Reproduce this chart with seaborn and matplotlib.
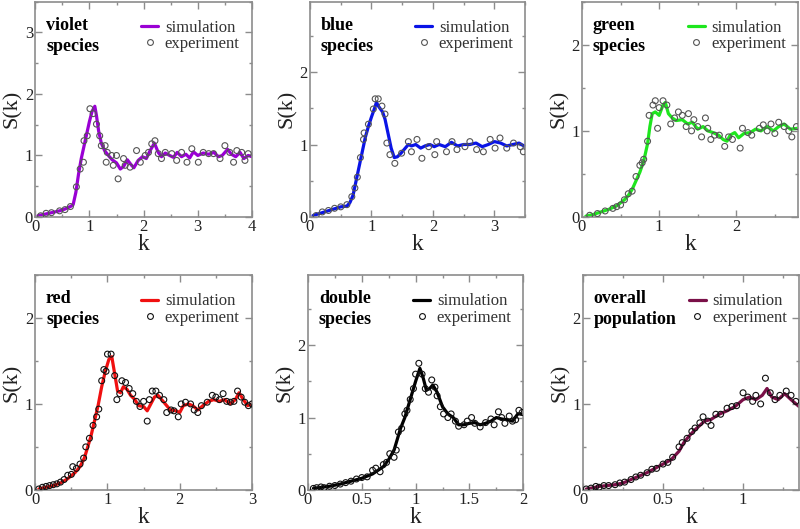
import numpy as np
import pandas as pd
import matplotlib
matplotlib.use("Agg")
import matplotlib.pyplot as plt
from matplotlib.lines import Line2D
from matplotlib.ticker import MultipleLocator, AutoMinorLocator
import seaborn as sns

# --- DANE --------------------------------------------------------------------

# violet species
violet_sim_k = [0.05, 0.15, 0.25, 0.35, 0.45, 0.55, 0.65, 0.70, 0.75, 0.80, 0.85, 0.90,
                0.95, 1.00, 1.05, 1.10, 1.13, 1.17, 1.22, 1.28, 1.35, 1.42, 1.50, 1.57,
                1.63, 1.70, 1.76, 1.82, 1.90, 1.98, 2.05, 2.12, 2.20, 2.27, 2.33, 2.40,
                2.48, 2.55, 2.62, 2.70, 2.78, 2.85, 2.92, 3.00, 3.10, 3.20, 3.30, 3.38,
                3.45, 3.55, 3.62, 3.70, 3.78, 3.85, 3.93, 4.00]
violet_sim_s = [0.02, 0.04, 0.06, 0.08, 0.10, 0.13, 0.17, 0.20, 0.40, 0.70, 0.95, 1.15,
                1.35, 1.55, 1.72, 1.80, 1.65, 1.40, 1.20, 1.08, 1.00, 0.93, 0.88, 0.78,
                0.82, 0.93, 0.86, 0.80, 0.92, 0.98, 0.95, 1.08, 1.20, 1.05, 0.98, 1.04,
                1.00, 0.97, 1.05, 0.98, 1.02, 0.96, 1.06, 1.00, 1.04, 1.02, 1.05, 0.98,
                1.00, 1.10, 1.02, 0.98, 1.05, 0.95, 1.00, 0.98]
violet_exp_k = [0.10, 0.20, 0.30, 0.45, 0.55, 0.65, 0.76, 0.83, 0.89, 0.90, 0.96, 1.01,
                1.07, 1.13, 1.19, 1.22, 1.29, 1.31, 1.33, 1.41, 1.44, 1.50, 1.53, 1.63,
                1.66, 1.75, 1.87, 1.94, 2.03, 2.09, 2.15, 2.21, 2.27, 2.33, 2.40, 2.52,
                2.61, 2.70, 2.80, 2.89, 3.01, 3.10, 3.20, 3.29, 3.41, 3.50, 3.59, 3.66,
                3.72, 3.81, 3.87, 3.93]
violet_exp_s = [0.02, 0.06, 0.07, 0.10, 0.12, 0.17, 0.49, 0.78, 0.89, 1.24, 1.32, 1.76,
                1.68, 1.51, 1.32, 1.16, 1.16, 0.89, 1.05, 1.00, 0.84, 1.00, 0.62, 0.95,
                0.84, 0.81, 1.08, 0.89, 1.00, 1.05, 1.19, 1.24, 1.03, 0.95, 1.05, 1.03,
                0.92, 1.05, 0.89, 1.11, 0.89, 1.05, 1.03, 1.03, 0.95, 1.16, 1.05, 0.89,
                1.08, 1.05, 0.92, 1.03]

# blue species
blue_sim_k = [0.05, 0.20, 0.35, 0.50, 0.60, 0.65, 0.70, 0.75, 0.80, 0.85, 0.90, 0.95,
              1.00, 1.05, 1.08, 1.12, 1.18, 1.22, 1.27, 1.32, 1.37, 1.42, 1.48, 1.55,
              1.60, 1.65, 1.72, 1.80, 1.87, 1.95, 2.02, 2.10, 2.20, 2.30, 2.40, 2.50,
              2.60, 2.70, 2.80, 2.90, 3.00, 3.10, 3.20, 3.30, 3.40, 3.50]
blue_sim_s = [0.02, 0.06, 0.10, 0.14, 0.15, 0.20, 0.30, 0.50, 0.70, 0.90, 1.10, 1.25,
              1.38, 1.50, 1.58, 1.52, 1.45, 1.35, 1.15, 0.95, 0.82, 0.83, 0.88, 0.95,
              1.00, 0.98, 1.00, 0.95, 0.98, 1.00, 0.97, 1.00, 0.97, 1.03, 0.98, 1.00,
              1.00, 1.02, 0.97, 1.00, 1.04, 1.02, 0.98, 1.00, 1.02, 0.97]
blue_exp_k = [0.10, 0.20, 0.30, 0.40, 0.50, 0.60, 0.68, 0.73, 0.77, 0.82, 0.87, 0.88,
              0.95, 1.03, 1.06, 1.11, 1.17, 1.22, 1.25, 1.30, 1.38, 1.49, 1.60, 1.65,
              1.74, 1.82, 1.93, 2.03, 2.06, 2.22, 2.31, 2.39, 2.52, 2.60, 2.71, 2.82,
              2.93, 3.01, 3.09, 3.20, 3.31, 3.42, 3.47]
blue_exp_s = [0.02, 0.07, 0.09, 0.12, 0.14, 0.17, 0.28, 0.40, 0.55, 0.82, 1.07, 1.16,
              1.28, 1.49, 1.63, 1.63, 1.53, 1.42, 1.02, 0.86, 0.74, 0.88, 1.04, 0.90,
              1.07, 0.81, 0.97, 0.86, 1.04, 0.90, 1.04, 0.93, 0.97, 1.04, 0.93, 0.90,
              1.07, 0.95, 1.09, 0.95, 1.02, 0.97, 0.90]

# green species
green_sim_k = [0.05, 0.15, 0.25, 0.35, 0.45, 0.55, 0.60, 0.65, 0.70, 0.75, 0.80, 0.85,
               0.88, 0.91, 0.95, 1.00, 1.05, 1.08, 1.12, 1.17, 1.22, 1.30, 1.37, 1.43,
               1.50, 1.57, 1.63, 1.70, 1.77, 1.83, 1.88, 1.92, 1.98, 2.03, 2.10, 2.18,
               2.25, 2.32, 2.40, 2.48, 2.55, 2.62, 2.70, 2.80]
green_sim_s = [0.01, 0.03, 0.06, 0.09, 0.13, 0.20, 0.25, 0.32, 0.42, 0.52, 0.65, 0.85,
               1.05, 1.20, 1.22, 1.18, 1.30, 1.33, 1.20, 1.15, 1.12, 1.13, 1.08, 1.10,
               1.02, 1.05, 1.00, 0.98, 0.95, 0.90, 0.88, 0.95, 0.98, 0.92, 0.97, 0.98,
               1.02, 1.00, 1.05, 1.00, 1.05, 1.08, 1.02, 1.03]
green_exp_k = [0.10, 0.20, 0.30, 0.40, 0.45, 0.50, 0.55, 0.60, 0.65, 0.70, 0.75, 0.78,
               0.80, 0.85, 0.87, 0.92, 0.95, 0.98, 1.00, 1.05, 1.10, 1.15, 1.20, 1.25,
               1.30, 1.35, 1.38, 1.42, 1.45, 1.50, 1.55, 1.60, 1.63, 1.67, 1.72, 1.78,
               1.85, 1.90, 1.95, 2.05, 2.08, 2.15, 2.20, 2.30, 2.35, 2.40, 2.45, 2.50,
               2.55, 2.62, 2.68, 2.72, 2.78]
green_exp_s = [0.02, 0.04, 0.07, 0.10, 0.12, 0.14, 0.20, 0.27, 0.30, 0.47, 0.60, 0.63,
               0.67, 0.88, 1.18, 1.30, 1.35, 1.03, 1.27, 1.35, 1.30, 1.08, 1.15, 1.22,
               1.18, 1.05, 1.20, 1.00, 1.13, 1.05, 0.93, 1.15, 1.03, 0.90, 0.95, 0.95,
               0.82, 0.93, 0.90, 0.80, 1.03, 0.98, 0.95, 1.03, 1.07, 1.00, 1.08, 0.97,
               1.10, 1.05, 1.00, 0.93, 1.05]

# red species
red_sim_k = [0.05, 0.15, 0.25, 0.35, 0.45, 0.55, 0.62, 0.68, 0.72, 0.77, 0.82, 0.87,
             0.92, 0.97, 1.02, 1.06, 1.10, 1.14, 1.18, 1.22, 1.27, 1.32, 1.38, 1.43,
             1.50, 1.55, 1.60, 1.65, 1.70, 1.75, 1.80, 1.87, 1.95, 2.00, 2.05, 2.12,
             2.18, 2.25, 2.32, 2.40, 2.47, 2.55, 2.62, 2.70, 2.77, 2.82, 2.88, 2.94,
             3.00]
red_sim_s = [0.01, 0.03, 0.05, 0.08, 0.13, 0.20, 0.27, 0.37, 0.48, 0.62, 0.80, 0.98,
             1.20, 1.38, 1.52, 1.55, 1.35, 1.15, 1.13, 1.20, 1.17, 1.10, 1.05, 0.98,
             0.97, 0.92, 1.00, 1.08, 1.10, 1.05, 1.00, 0.93, 0.92, 0.90, 0.98, 1.00,
             0.98, 0.93, 0.98, 1.03, 1.05, 1.03, 1.05, 1.00, 1.05, 1.13, 1.05, 0.98,
             1.00]
red_exp_k = [0.05, 0.10, 0.15, 0.20, 0.25, 0.30, 0.35, 0.40, 0.45, 0.50, 0.52, 0.57,
             0.62, 0.67, 0.70, 0.75, 0.80, 0.85, 0.88, 0.92, 0.95, 0.98, 1.00, 1.05,
             1.10, 1.13, 1.17, 1.20, 1.25, 1.30, 1.35, 1.40, 1.45, 1.50, 1.55, 1.58,
             1.62, 1.67, 1.72, 1.78, 1.82, 1.88, 1.92, 1.98, 2.02, 2.08, 2.15, 2.20,
             2.25, 2.30, 2.38, 2.45, 2.50, 2.55, 2.60, 2.65, 2.70, 2.75, 2.80, 2.85,
             2.90, 2.95, 3.00]
red_exp_s = [0.01, 0.03, 0.04, 0.05, 0.06, 0.07, 0.09, 0.12, 0.17, 0.18, 0.27, 0.25,
             0.30, 0.37, 0.50, 0.60, 0.75, 0.85, 0.94, 1.27, 1.40, 1.38, 1.58, 1.58,
             1.33, 1.05, 1.12, 1.27, 1.25, 1.18, 1.12, 1.03, 0.97, 1.03, 0.80, 1.05,
             1.15, 1.15, 1.10, 1.05, 0.90, 0.93, 0.92, 0.85, 1.00, 1.02, 1.00, 0.93,
             0.90, 0.98, 1.02, 1.10, 1.08, 1.05, 1.12, 1.03, 1.02, 1.03, 1.15, 1.08,
             1.02, 0.98, 1.00]

# double species
double_sim_k = [0.05, 0.10, 0.20, 0.30, 0.40, 0.50, 0.60, 0.70, 0.75, 0.80, 0.83, 0.86,
                0.90, 0.95, 1.00, 1.04, 1.07, 1.10, 1.13, 1.16, 1.20, 1.25, 1.30, 1.35,
                1.40, 1.45, 1.50, 1.55, 1.60, 1.65, 1.70, 1.75, 1.80, 1.85, 1.90, 1.95,
                2.00]
double_sim_s = [0.02, 0.03, 0.05, 0.08, 0.12, 0.16, 0.22, 0.32, 0.42, 0.55, 0.70, 0.85,
                1.00, 1.25, 1.50, 1.68, 1.55, 1.38, 1.40, 1.45, 1.35, 1.15, 1.05, 1.00,
                0.90, 0.90, 0.92, 0.93, 0.90, 0.92, 0.95, 1.00, 0.98, 0.97, 0.95, 1.05,
                1.05]
double_exp_k = [0.05, 0.08, 0.12, 0.15, 0.20, 0.25, 0.30, 0.35, 0.40, 0.45, 0.50, 0.55,
                0.60, 0.63, 0.67, 0.70, 0.73, 0.76, 0.80, 0.82, 0.84, 0.87, 0.90, 0.92,
                0.95, 0.98, 1.00, 1.03, 1.06, 1.09, 1.12, 1.15, 1.18, 1.20, 1.23, 1.26,
                1.30, 1.33, 1.37, 1.40, 1.45, 1.48, 1.52, 1.55, 1.60, 1.65, 1.70, 1.73,
                1.77, 1.80, 1.83, 1.87, 1.90, 1.93, 1.96, 1.99]
double_exp_s = [0.02, 0.03, 0.04, 0.03, 0.05, 0.06, 0.08, 0.10, 0.12, 0.15, 0.17, 0.18,
                0.27, 0.30, 0.25, 0.35, 0.38, 0.50, 0.45, 0.55, 0.80, 0.85, 1.05, 1.10,
                1.25, 1.40, 1.60, 1.75, 1.60, 1.40, 1.35, 1.52, 1.42, 1.30, 1.15, 1.05,
                1.00, 1.05, 0.95, 0.88, 0.90, 0.95, 1.00, 0.92, 0.87, 0.93, 0.98, 0.90,
                1.08, 1.00, 0.92, 1.02, 0.95, 0.97, 1.10, 1.07]

# overall population
overall_sim_k = [0.02, 0.05, 0.10, 0.15, 0.20, 0.25, 0.30, 0.35, 0.40, 0.45, 0.50, 0.55,
                 0.60, 0.63, 0.66, 0.70, 0.73, 0.76, 0.80, 0.85, 0.90, 0.95, 1.00, 1.04,
                 1.08, 1.12, 1.15, 1.18, 1.22, 1.26, 1.30, 1.35]
overall_sim_s = [0.01, 0.02, 0.04, 0.05, 0.06, 0.08, 0.12, 0.16, 0.20, 0.25, 0.30, 0.35,
                 0.45, 0.55, 0.62, 0.70, 0.75, 0.80, 0.82, 0.88, 0.92, 0.97, 1.05, 1.08,
                 1.05, 1.10, 1.18, 1.08, 1.05, 1.12, 1.05, 0.97]
overall_exp_k = [0.02, 0.05, 0.08, 0.10, 0.13, 0.16, 0.20, 0.23, 0.26, 0.30, 0.33, 0.36,
                 0.40, 0.43, 0.46, 0.50, 0.53, 0.56, 0.60, 0.62, 0.65, 0.68, 0.70, 0.73,
                 0.75, 0.78, 0.80, 0.83, 0.86, 0.90, 0.93, 0.96, 1.00, 1.03, 1.06, 1.08,
                 1.11, 1.14, 1.17, 1.20, 1.23, 1.27, 1.30, 1.33]
overall_exp_s = [0.01, 0.02, 0.04, 0.03, 0.05, 0.05, 0.06, 0.08, 0.09, 0.12, 0.15, 0.17,
                 0.20, 0.24, 0.25, 0.30, 0.32, 0.38, 0.50, 0.55, 0.60, 0.68, 0.72, 0.78,
                 0.85, 0.80, 0.75, 0.88, 0.88, 0.95, 0.97, 0.98, 1.13, 1.08, 1.03, 1.10,
                 1.00, 1.30, 1.13, 1.05, 1.10, 1.15, 1.10, 1.03]

# --- KONFIGURACJA PANELI -----------------------------------------------------

PANELS = [
    # nazwa, sim_k, sim_s, exp_k, exp_s, kolor, kolor punktow, xlim, ylim, xmajor
    (["violet", "species"], violet_sim_k, violet_sim_s, violet_exp_k, violet_exp_s,
     "#9a00d4", "#555555", 4.0, 3.5, 1.0),
    (["blue", "species"], blue_sim_k, blue_sim_s, blue_exp_k, blue_exp_s,
     "#0a14e6", "#555555", 3.5, 2.97, 1.0),
    (["green", "species"], green_sim_k, green_sim_s, green_exp_k, green_exp_s,
     "#1ee61e", "#555555", 2.8, 2.5, 1.0),
    (["red", "species"], red_sim_k, red_sim_s, red_exp_k, red_exp_s,
     "#f01010", "#111111", 3.0, 2.5, 1.0),
    (["double", "species"], double_sim_k, double_sim_s, double_exp_k, double_exp_s,
     "#000000", "#111111", 2.0, 2.97, 0.5),
    (["overall", "population"], overall_sim_k, overall_sim_s, overall_exp_k, overall_exp_s,
     "#7a1048", "#111111", 1.35, 2.5, 0.5),
]

# pozycje osi [left, bottom, width, height] (ulamki figury 800x529)
AX_POS = [
    [0.0440, 0.5898, 0.2710, 0.4070],
    [0.3875, 0.5898, 0.2690, 0.4070],
    [0.7275, 0.5898, 0.2700, 0.4070],
    [0.0440, 0.0740, 0.2710, 0.4060],
    [0.3850, 0.0740, 0.2690, 0.4060],
    [0.7288, 0.0740, 0.2700, 0.4060],
]

FRAME = "#8c8c8c"

sns.set_theme(style="ticks")
plt.rcParams["font.family"] = ["Liberation Serif", "DejaVu Serif"]

fig = plt.figure(figsize=(8.0, 5.29), dpi=100)

for pos, (name, sk, ss, ek, es, col, pcol, xmax, ymax, xmaj) in zip(AX_POS, PANELS):
    ax = fig.add_axes(pos)
    df_sim = pd.DataFrame({"k": sk, "S": ss})
    df_exp = pd.DataFrame({"k": ek, "S": es})

    sns.lineplot(data=df_sim, x="k", y="S", color=col, linewidth=2.3,
                 sort=False, estimator=None, ax=ax, zorder=2)
    sns.scatterplot(data=df_exp, x="k", y="S", marker="o", s=18,
                    facecolor="none", edgecolor=pcol, linewidth=0.8,
                    ax=ax, zorder=3)

    ax.set_xlim(0, xmax)
    ax.set_ylim(0, ymax)
    ax.xaxis.set_major_locator(MultipleLocator(xmaj))
    ax.yaxis.set_major_locator(MultipleLocator(1.0))
    ax.xaxis.set_minor_locator(AutoMinorLocator(2))
    ax.yaxis.set_minor_locator(AutoMinorLocator(2))
    ax.xaxis.set_major_formatter(plt.FuncFormatter(lambda v, p: f"{v:g}"))
    ax.tick_params(which="both", direction="in", top=True, right=True,
                   color=FRAME, labelsize=12, pad=1.5, labelcolor="#222222")
    ax.tick_params(which="major", length=5, width=1)
    ax.tick_params(which="minor", length=2.5, width=1)
    for sp in ax.spines.values():
        sp.set_color(FRAME)
        sp.set_linewidth(1.2)

    ax.set_xlabel("k", fontsize=17, labelpad=-1, color="#222222")
    ax.set_ylabel("S(k)", fontsize=16, labelpad=2, color="#222222")

    ax.text(0.05, 0.93, name[0] + "\n" + name[1], transform=ax.transAxes,
            ha="left", va="top", fontsize=13, fontweight="bold",
            linespacing=1.3, color="black")

    handles = [
        Line2D([], [], color=col, linewidth=2.3, label="simulation"),
        Line2D([], [], linestyle="none", marker="o", markersize=4.2,
               markerfacecolor="none", markeredgecolor=pcol,
               markeredgewidth=0.8, label="experiment"),
    ]
    leg = ax.legend(handles=handles, loc="upper left", bbox_to_anchor=(0.49, 0.915),
                    frameon=False, fontsize=12, handlelength=1.0,
                    handletextpad=0.4, labelspacing=0.02, borderaxespad=0,
                    borderpad=0)
    for t in leg.get_texts():
        t.set_color("#333333")

fig.savefig("out.png", dpi=100)
